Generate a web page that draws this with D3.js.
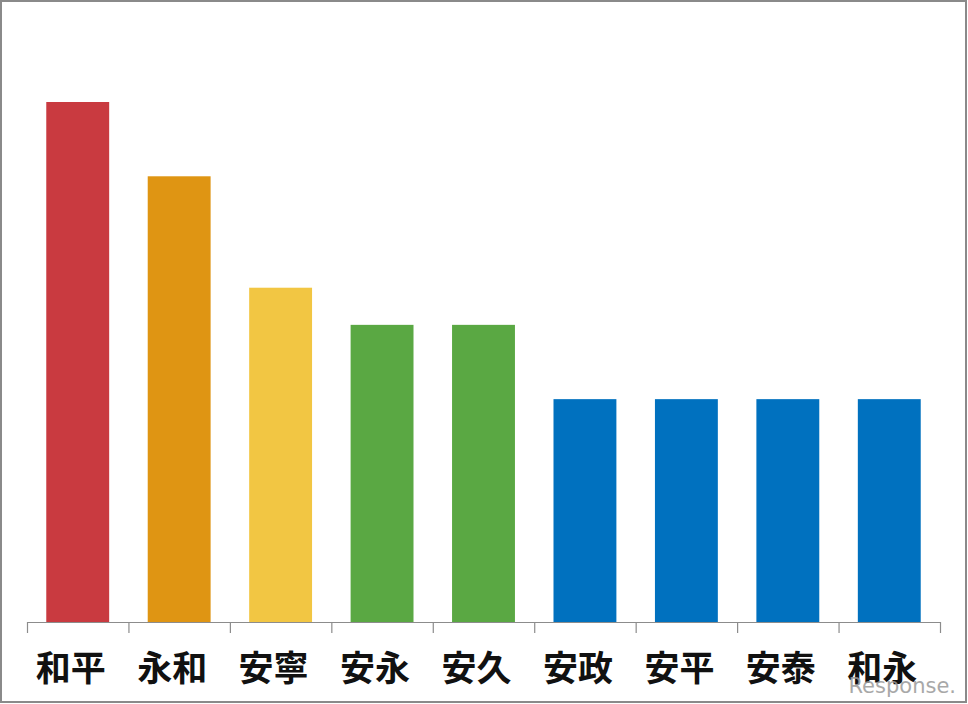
<!DOCTYPE html>
<html>
<head>
<meta charset="utf-8">
<script src="https://cdn.jsdelivr.net/npm/d3@7"></script>
<style>
  html, body { margin: 0; padding: 0; background: #fff; }
  svg { display: block; }
</style>
</head>
<body>
<div class="chart"></div>
<script>
// era name candidates and their values
const names = ['和平', '永和', '安寧', '安永', '安久', '安政', '安平', '安泰', '和永'];
const votes = [14, 12, 9, 8, 8, 6, 6, 6, 6];
const colors = ['#C93A40', '#DF9513', '#F2C643', '#5AA843', '#5AA843', '#0071BF', '#0071BF', '#0071BF', '#0071BF'];

const W = 968, H = 704;
const left = 27, right = 940, base = 622;

const svg = d3.select('.chart').append('svg')
    .attr('width', W)
    .attr('height', H);

// frame
svg.append('rect')
    .attr('x', 1).attr('y', 1)
    .attr('width', W - 3).attr('height', H - 3)
    .attr('fill', '#fff')
    .attr('stroke', '#8a8a8a')
    .attr('stroke-width', 2);

const xScale = d3.scaleBand()
    .domain(names)
    .range([left, right])
    .paddingInner(0.38)
    .paddingOuter(0.19);

const yScale = d3.scaleLinear()
    .domain([0, 14])
    .range([base, 102]);

svg.selectAll('rect.bar')
    .data(names)
    .enter()
    .append('rect')
    .attr('class', 'bar')
    .attr('x', d => xScale(d))
    .attr('width', xScale.bandwidth())
    .attr('y', (d, i) => yScale(votes[i]))
    .attr('height', (d, i) => base - yScale(votes[i]))
    .attr('fill', (d, i) => colors[i]);

// axis with ticks on category boundaries
const edgeScale = d3.scaleLinear()
    .domain([0, names.length])
    .range([left, right]);

const xAxis = d3.axisBottom(edgeScale)
    .tickValues(d3.range(names.length + 1))
    .tickFormat('')
    .tickSize(11)
    .tickSizeOuter(0);

const axisG = svg.append('g')
    .attr('transform', `translate(0, ${base})`)
    .call(xAxis);
axisG.select('.domain').attr('stroke', '#8c8c8c').attr('stroke-width', 1.2);
axisG.selectAll('.tick line').attr('stroke', '#8c8c8c').attr('stroke-width', 1.2);

svg.selectAll('text.label')
    .data(names)
    .enter()
    .append('text')
    .attr('class', 'label')
    .attr('x', d => xScale(d) + xScale.bandwidth() / 2 - 7)
    .attr('y', 681)
    .attr('text-anchor', 'middle')
    .attr('font-family', '"Noto Sans CJK JP", "Noto Sans CJK SC", sans-serif')
    .attr('font-weight', 'bold')
    .attr('font-size', 35)
    .attr('fill', '#111')
    .text(d => d);

// watermark
svg.append('text')
    .attr('x', 956)
    .attr('y', 693)
    .attr('text-anchor', 'end')
    .attr('font-family', '"DejaVu Sans", sans-serif')
    .attr('font-size', 21)
    .attr('fill', '#9a9a9a')
    .attr('opacity', 0.85)
    .text('Response.');
</script>
</body>
</html>
